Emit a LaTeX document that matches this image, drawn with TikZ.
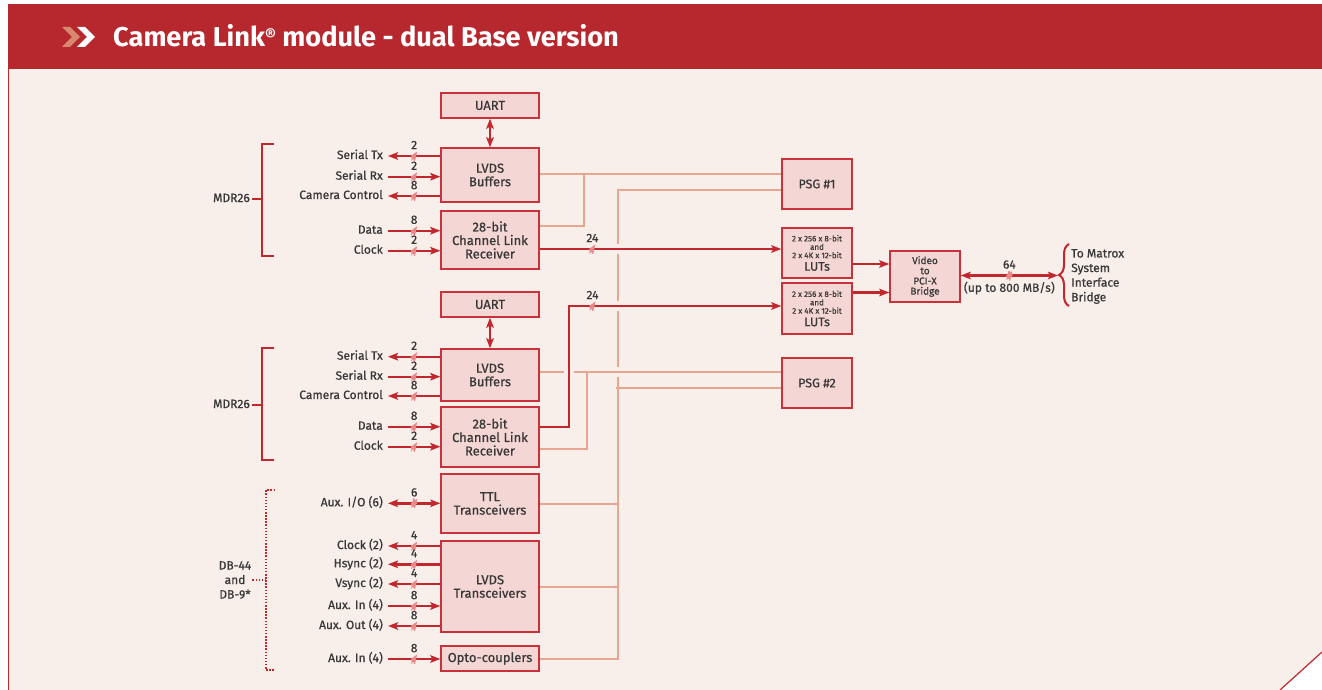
\documentclass[tikz,border=0pt]{standalone}
\usepackage{fontspec}
\setmainfont{Fira Sans}[UprightFeatures={FakeBold=0.7}]
\usetikzlibrary{arrows.meta,decorations.pathreplacing,calc}
\definecolor{hdr}{HTML}{B7282E}
\definecolor{bgp}{HTML}{F8EEEA}
\definecolor{bxf}{HTML}{F4D6D4}
\definecolor{bxd}{HTML}{C9323B}
\definecolor{dk}{HTML}{C1272D}
\definecolor{lt}{HTML}{E8A592}
\definecolor{txt}{HTML}{383838}
\definecolor{chev}{HTML}{D98870}
\definecolor{slc}{HTML}{E98A8A}
\begin{document}
\begin{tikzpicture}[x=1pt,y=-1pt,
  box/.style={draw=bxd, fill=bxf, line width=1.4pt, inner sep=0pt, align=center, text=txt, font=\fontsize{13}{13.5}\selectfont},
  lbl/.style={anchor=east, inner xsep=5pt, inner ysep=0pt, text height=8.5pt, text depth=2.5pt, text=txt, font=\fontsize{12}{14}\selectfont},
  numl/.style={inner sep=0pt, text depth=0pt, text=txt, font=\fontsize{12}{14}\selectfont},
  bm/.style={inner sep=0pt, minimum width=6pt, minimum height=9pt, label distance=0.5pt,
    path picture={\draw[slc, line width=0.9pt] (path picture bounding box.south west) -- (path picture bounding box.north east);},
    label={[numl]above:#1}},
  dline/.style={draw=dk, line width=2.4pt},
  arr/.style={dline, -{Stealth[length=10pt,width=7.5pt,inset=2pt]}},
  darr/.style={dline, {Stealth[length=10pt,width=7.5pt,inset=2pt]}-{Stealth[length=10pt,width=7.5pt,inset=2pt]}},
  lite/.style={draw=lt, line width=2pt},
  halo/.style={draw=bgp, line width=10pt, shorten <=6pt, shorten >=6pt},
  brk/.style={draw=dk, line width=2.2pt},
  dotb/.style={draw=dk, line width=2pt, dash pattern=on 1.5pt off 1.6pt},
]
\useasboundingbox (0,0) rectangle (1322,690);
% background and frame
\fill[white] (0,0) rectangle (1322,690);
\fill[bgp] (8,69) -- (1322,69) -- (1322,652) -- (1280,690) -- (8,690) -- cycle;
\draw[dk, line width=1pt] (8.5,69) -- (8.5,690);
\draw[dk, line width=1.2pt] (1322,652) -- (1280,690);
\fill[hdr] (8,4) rectangle (1322,69.5);
\fill[chev] (62,27) -- (70,27) -- (80,37) -- (70,47) -- (62,47) -- (72,37) -- cycle;
\fill[white] (77,27) -- (85,27) -- (95,37) -- (85,47) -- (77,47) -- (87,37) -- cycle;
\node[anchor=base west, text=white, inner sep=0pt, font=\fontsize{27.2}{30}\selectfont\bfseries] (title) at (113,46.5)
  {Camera Link\raisebox{5pt}{\fontsize{17}{17}\selectfont ®} module - dual Base version};

% boxes
\node[box, minimum width=98pt, minimum height=25pt] (uart1) at (490,105.5) {UART};
\node[box, minimum width=98pt, minimum height=54pt] (lb1) at (490,175) {LVDS\\Buffers};
\node[box, minimum width=98pt, minimum height=58pt] (clr1) at (490,240) {28-bit\\Channel Link\\Receiver};
\node[box, minimum width=98pt, minimum height=25pt] (uart2) at (490,304.5) {UART};
\node[box, minimum width=98pt, minimum height=52pt] (lb2) at (490,375) {LVDS\\Buffers};
\node[box, minimum width=98pt, minimum height=60pt] (clr2) at (490,437) {28-bit\\Channel Link\\Receiver};
\node[box, minimum width=98pt, minimum height=59pt] (ttl) at (490,503.5) {TTL\\Transceivers};
\node[box, minimum width=98pt, minimum height=91pt] (lvt) at (490,586.5) {LVDS\\Transceivers};
\node[box, minimum width=98pt, minimum height=25pt] (opto) at (490,658.5) {Opto-couplers};
\node[box, minimum width=70pt, minimum height=50pt, font=\fontsize{12.5}{13}\selectfont] (psg1) at (817,184) {PSG \#1};
\node[box, minimum width=70pt, minimum height=50pt, font=\fontsize{12.5}{13}\selectfont] (psg2) at (817,383) {PSG \#2};
\node[box, minimum width=70pt, minimum height=50pt, font=\fontsize{8}{8.4}\selectfont] (lut1) at (817,253)
  {2 x 256 x 8-bit\\and\\2 x 4K x 12-bit\\[2.8pt]{\fontsize{12.5}{11}\selectfont LUTs}};
\node[box, minimum width=70pt, minimum height=51pt, font=\fontsize{8}{8.4}\selectfont] (lut2) at (817,308.5)
  {2 x 256 x 8-bit\\and\\2 x 4K x 12-bit\\[2.8pt]{\fontsize{12.5}{11}\selectfont LUTs}};
\node[box, minimum width=70pt, minimum height=51pt, font=\fontsize{10}{10.2}\selectfont] (br) at (925,276.5) {Video\\to\\PCI-X\\Bridge};

% left labels, group 1
\node[lbl] (stx1) at (388,156) {Serial Tx};
\node[lbl] (srx1) at (388,176.7) {Serial Rx};
\node[lbl] (cc1) at (388,196) {Camera Control};
\node[lbl] (dat1) at (388,230.7) {Data};
\node[lbl] (clk1) at (388,250.7) {Clock};
% group 2
\node[lbl] (stx2) at (388,356.7) {Serial Tx};
\node[lbl] (srx2) at (388,376.7) {Serial Rx};
\node[lbl] (cc2) at (388,396) {Camera Control};
\node[lbl] (dat2) at (388,426.7) {Data};
\node[lbl] (clk2) at (388,446.7) {Clock};
% group 3
\node[lbl] (aio) at (388,503.3) {Aux. I/O (6)};
\node[lbl] (ck3) at (388,546) {Clock (2)};
\node[lbl] (hs3) at (388,564.3) {Hsync (2)};
\node[lbl] (vs3) at (388,584) {Vsync (2)};
\node[lbl] (ai3) at (388,606) {Aux. In (4)};
\node[lbl] (ao3) at (388,626) {Aux. Out (4)};
\node[lbl] (ai4) at (388,659) {Aux. In (4)};

\node[lbl, inner xsep=2pt] (mdr1) at (252,199) {MDR26};
\node[lbl, inner xsep=2pt] (mdr2) at (252,405) {MDR26};
\node[align=center, inner sep=1pt, text=txt, font=\fontsize{12}{14.5}\selectfont] (db) at (235,580) {DB-44\\and\\DB-9*};
\node[anchor=west, align=left, inner sep=0pt, text=txt, font=\fontsize{12}{14.6}\selectfont] (matrox) at (1071,276.5) {To Matrox\\System\\Interface\\Bridge};
\coordinate (brtip) at (1058,275.5);

% brackets
\draw[brk] (274,144) -- (262,144) -- (262,256) -- (274,256);
\draw[brk] (mdr1.east) -- ++(10,0);
\draw[brk] (274,348) -- (262,348) -- (262,460) -- (274,460);
\draw[brk] (mdr2.east) -- ++(10,0);
\draw[dotb] (275,490) -- (266,490) -- (266,670) -- (275,670);
\draw[dotb] (db.east) -- ++(14,0);
\draw[dk, line width=2pt, decorate, decoration={brace, amplitude=10pt}] (1069,306) -- (1069,244);

% left connectors
\draw[arr] (stx1.east -| lb1.west) -- node[bm=2]{} (stx1.east);
\draw[arr] (srx1.east) -- node[bm=2]{} (srx1.east -| lb1.west);
\draw[arr] (cc1.east -| lb1.west) -- node[bm=8]{} (cc1.east);
\draw[arr] (dat1.east) -- node[bm=8]{} (dat1.east -| clr1.west);
\draw[arr] (clk1.east) -- node[bm=2]{} (clk1.east -| clr1.west);
\draw[arr] (stx2.east -| lb2.west) -- node[bm=2]{} (stx2.east);
\draw[arr] (srx2.east) -- node[bm=2]{} (srx2.east -| lb2.west);
\draw[arr] (cc2.east -| lb2.west) -- node[bm=8]{} (cc2.east);
\draw[arr] (dat2.east) -- node[bm=8]{} (dat2.east -| clr2.west);
\draw[arr] (clk2.east) -- node[bm=2]{} (clk2.east -| clr2.west);
\draw[darr] (aio.east) -- node[bm=6]{} (aio.east -| ttl.west);
\draw[arr] (ck3.east -| lvt.west) -- node[bm=4]{} (ck3.east);
\draw[arr] (hs3.east -| lvt.west) -- node[bm=4]{} (hs3.east);
\draw[arr] (vs3.east -| lvt.west) -- node[bm=4]{} (vs3.east);
\draw[arr] (ai3.east) -- node[bm=8]{} (ai3.east -| lvt.west);
\draw[arr] (ao3.east -| lvt.west) -- node[bm=8]{} (ao3.east);
\draw[arr] (ai4.east) -- node[bm=8]{} (ai4.east -| opto.west);
\draw[darr] (uart1.south) -- (lb1.north);
\draw[darr] (uart2.south) -- (lb2.north);

% light (PSG) connectors
\draw[lite] ([yshift=1pt]lb1.east) -- ([yshift=10pt]psg1.west);
\draw[lite] ([yshift=14pt]clr1.east) -- ++(44,0) -- ++(0,-52);
\draw[lite] ([yshift=-6pt]psg1.west) -| ($(opto.east)+(78,0)$) -- (opto.east);
\draw[lite] ([yshift=-5pt]psg2.west) -- ++(-165,0);
\draw[lite] (ttl.east) -- ++(78,0);
\draw[lite] (lvt.east) -- ++(78,0);
\draw[halo] ([yshift=3pt]lb2.east) -- ([yshift=11pt]psg2.west);
\draw[lite] ([yshift=3pt]lb2.east) -- ([yshift=11pt]psg2.west);
\draw[lite] ([yshift=-12pt]clr2.east) -- ++(47,0) -- ++(0,-77);

% dark video connectors
\draw[halo] ([yshift=-9pt]clr1.east) -- ([yshift=4pt]lut1.west);
\draw[arr] ([yshift=-9pt]clr1.east) -- node[bm=24, pos=0.218]{} ([yshift=4pt]lut1.west);
\draw[halo] ([yshift=10pt]clr2.east) -- ++(29,0) |- ([yshift=2.5pt]lut2.west);
\draw[arr] ([yshift=10pt]clr2.east) -- ++(29,0) |- node[bm=24, pos=0.556]{} ([yshift=2.5pt]lut2.west);
\draw[arr] ([yshift=-11pt]lut1.east) -- ([yshift=12.5pt]br.west);
\draw[arr] ([yshift=16pt]lut2.east) -- ([yshift=-16pt]br.west);
\draw[darr] ([yshift=1pt]br.east) -- node[bm=64]{} node[below=5pt, inner sep=0pt, text=txt, font=\fontsize{12}{14}\selectfont] (rate) {(up to 800 MB/s)} (brtip);
\end{tikzpicture}
\end{document}
